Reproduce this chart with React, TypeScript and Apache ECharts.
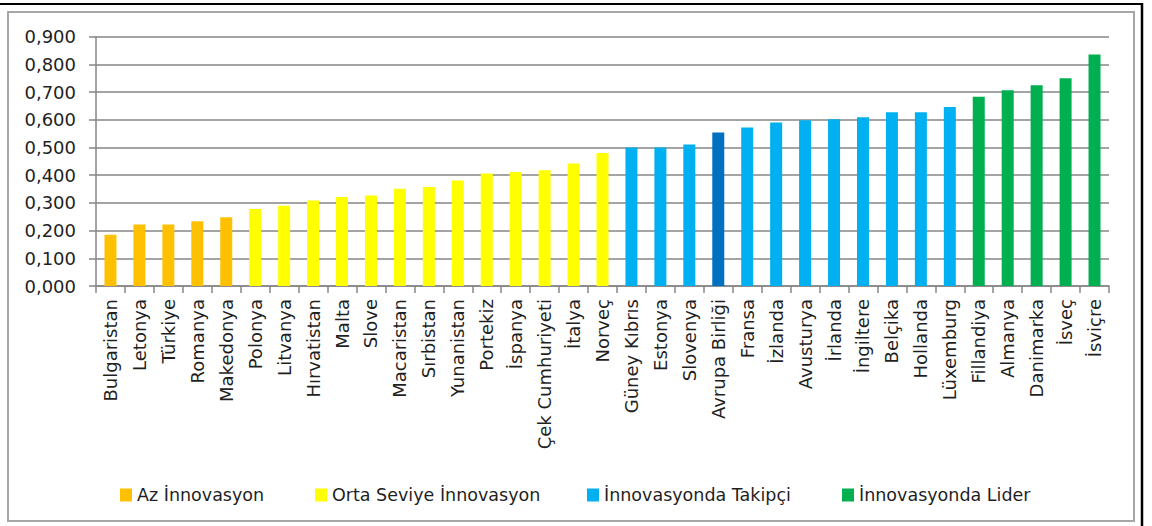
import React, { useEffect, useRef } from "react";
import * as echarts from "echarts";

const categories: string[] = [
  "Bulgaristan", "Letonya", "Türkiye", "Romanya", "Makedonya",
  "Polonya", "Litvanya", "Hırvatistan", "Malta", "Slove", "Macaristan",
  "Sırbistan", "Yunanistan", "Portekiz", "İspanya", "Çek Cumhuriyeti",
  "İtalya", "Norveç", "Güney Kıbrıs", "Estonya", "Slovenya", "Avrupa Birliği",
  "Fransa", "İzlanda", "Avusturya", "İrlanda", "İngiltere", "Belçika",
  "Hollanda", "Lüxemburg", "Fillandiya", "Almanya", "Danimarka", "İsveç", "İsviçre",
];

const values: number[] = [
  0.185, 0.222, 0.222, 0.234, 0.248,
  0.278, 0.290, 0.309, 0.321, 0.327, 0.351,
  0.357, 0.381, 0.406, 0.412, 0.418,
  0.442, 0.480, 0.500, 0.500, 0.511, 0.554,
  0.572, 0.590, 0.598, 0.602, 0.609, 0.627,
  0.627, 0.646, 0.683, 0.707, 0.725, 0.750, 0.836,
];

// group index per category: 0 Az, 1 Orta, 2 Takipçi, 3 Lider
const groups: number[] = [
  0, 0, 0, 0, 0,
  1, 1, 1, 1, 1, 1,
  1, 1, 1, 1, 1,
  1, 1, 2, 2, 2, 2,
  2, 2, 2, 2, 2, 2,
  2, 2, 3, 3, 3, 3, 3,
];

const seriesNames: string[] = [
  "Az İnnovasyon",
  "Orta Seviye İnnovasyon",
  "İnnovasyonda Takipçi",
  "İnnovasyonda Lider",
];

const seriesColors: string[] = ["#FFC000", "#FFFF00", "#00B0F0", "#00B050"];
const highlightCategory = "Avrupa Birliği";
const highlightColor = "#0070C0";

const yTicks: number[] = [0, 0.1, 0.2, 0.3, 0.4, 0.5, 0.6, 0.7, 0.8, 0.9];

const legendLefts: number[] = [115, 310, 582, 837];

const FONT = "'DejaVu Sans', Verdana, sans-serif";

export default function App() {
  const ref = useRef<HTMLDivElement>(null);

  useEffect(() => {
    if (!ref.current) return;
    const chart = echarts.init(ref.current, undefined, { renderer: "svg" });

    const series = seriesNames.map((name, gi) => ({
      name,
      type: "bar",
      stack: "total",
      barWidth: 12,
      itemStyle: { color: seriesColors[gi] },
      data: values.map((v, i) => {
        if (groups[i] !== gi) return "-";
        if (categories[i] === highlightCategory) {
          return { value: v, itemStyle: { color: highlightColor } };
        }
        return v;
      }),
    }));

    const legends = seriesNames.map((name, gi) => ({
      data: [name],
      left: legendLefts[gi],
      top: 481,
      itemWidth: 12,
      itemHeight: 13,
      icon: "rect",
      selectedMode: false,
      textStyle: { fontFamily: FONT, fontSize: 17.5, color: "#1f1f1f" },
    }));

    chart.setOption({
      animation: false,
      backgroundColor: "#ffffff",
      legend: legends,
      grid: { left: 96, right: 43, top: 36.7, bottom: 240, containLabel: false },
      xAxis: {
        type: "category",
        data: categories,
        boundaryGap: true,
        axisLine: { show: true, lineStyle: { color: "#868686", width: 1.5 } },
        axisTick: { show: true, length: 7, alignWithLabel: false, interval: 0, lineStyle: { color: "#868686", width: 1.5 } },
        axisLabel: {
          interval: 0,
          rotate: 90,
          margin: 13,
          fontFamily: FONT,
          fontSize: 18,
          color: "#1f1f1f",
        },
      },
      yAxis: {
        type: "value",
        min: yTicks[0],
        max: yTicks[yTicks.length - 1],
        interval: 0.1,
        axisLine: { show: true, lineStyle: { color: "#868686", width: 1.5 } },
        axisTick: { show: true, length: 7, lineStyle: { color: "#868686", width: 1.5 } },
        splitLine: { show: true, lineStyle: { color: "#868686", width: 1.5 } },
        axisLabel: {
          margin: 20,
          fontFamily: FONT,
          fontSize: 18,
          color: "#1f1f1f",
          formatter: (v: number) => v.toFixed(3).replace(".", ","),
        },
      },
      graphic: [
        {
          type: "rect",
          shape: { x: 8, y: 12, width: 1126, height: 509 },
          style: { fill: "none", stroke: "#a6a6a6", lineWidth: 2 },
          silent: true,
        },
        {
          type: "line",
          shape: { x1: 0, y1: 4, x2: 1143, y2: 4 },
          style: { stroke: "#000000", lineWidth: 2 },
          silent: true,
        },
        {
          type: "line",
          shape: { x1: 1142, y1: 3, x2: 1142, y2: 526 },
          style: { stroke: "#000000", lineWidth: 2.5 },
          silent: true,
        },
      ],
      series,
    });

    return () => chart.dispose();
  }, []);

  return (
    <div
      ref={ref}
      style={{ position: "fixed", left: 0, top: 0, width: 1152, height: 526 }}
    />
  );
}
